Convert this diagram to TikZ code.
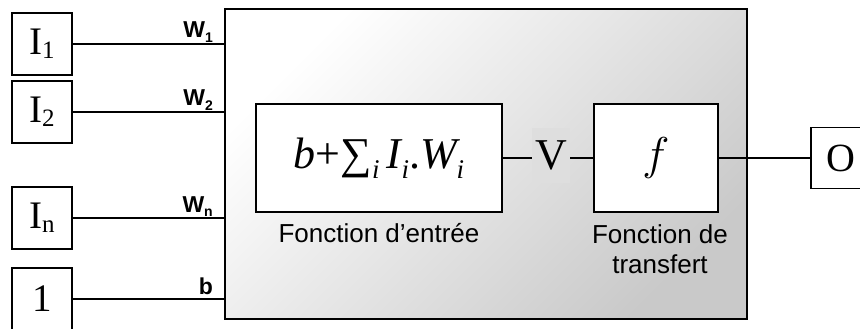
\documentclass[tikz,border=0pt]{standalone}
\usepackage{fix-cm}
\usepackage{fontspec}
\setmainfont{Liberation Serif}
\setsansfont{Liberation Sans}
\usetikzlibrary{positioning}

% indices
\newcommand{\indx}[1]{\raisebox{-0.1em}{\fontsize{25}{25}\selectfont #1}}
\newcommand{\indi}[1]{\raisebox{-0.22em}{\fontsize{27}{27}\selectfont\itshape #1}}
\newcommand{\indw}[1]{\raisebox{-0.2em}{\fontsize{14}{14}\selectfont #1}}

\begin{document}
\begin{tikzpicture}[
    x=1pt, y=-1pt,
    inbox/.style={
        rectangle, draw, line width=1.6pt, fill=white,
        minimum width=60pt, minimum height=62pt, inner sep=0pt,
        font=\fontsize{39}{39}\selectfont
    },
    fbox/.style={
        rectangle, draw, line width=1.6pt, fill=white,
        minimum height=108pt, inner sep=0pt,
        font=\fontsize{44}{44}\selectfont
    },
    wlab/.style={font=\sffamily\bfseries\fontsize{23}{23}\selectfont, anchor=base east, inner sep=0pt},
    legende/.style={font=\sffamily\fontsize{26}{30}\selectfont, align=center, inner sep=0pt},
    wire/.style={line width=1.5pt}
]
    \useasboundingbox (0,0) rectangle (860,329);
    \clip (0,0) rectangle (860,329);

    % neurone
    \node[rectangle, draw, line width=2pt, top color=white, bottom color=black!21, shading angle=45,
          minimum width=522pt, minimum height=310pt, inner sep=0pt, anchor=north west] (neurone) at (224,8) {};

    % entrees
    \node[inbox] (in1) at (42,44)  {I\indx{1}};
    \node[inbox] (in2) at (42,112) {I\indx{2}};
    \node[inbox] (inn) at (42,218) {I\indx{n}};
    \node[inbox] (biais) at (42,299) {1};
    \node[inbox, minimum height=61pt, font=\fontsize{40}{40}\selectfont] (sortie) at (841,158) {O};

    \draw[wire] (in1.east) -- (in1.east -| neurone.west);
    \draw[wire] (in2.east) -- (in2.east -| neurone.west);
    \draw[wire] (inn.east) -- (inn.east -| neurone.west);
    \draw[wire] (biais.east) -- (biais.east -| neurone.west);

    \node[wlab] (w1) at (213,38)  {W\indw{1}};
    \node[wlab] (w2) at (213,106) {W\indw{2}};
    \node[wlab] (wn) at (213,212) {W\indw{n}};
    \node[wlab] (wb) at (213,294) {b};

    % fonctions
    \node[fbox, minimum width=246pt] (entree) at (379,158)
        {\itshape b\upshape+∑\indi{i}\,\itshape I\indi{i}\upshape.\itshape W\indi{i}};
    \node[fill=black!13, minimum width=38pt, minimum height=55pt, inner sep=0pt,
          font=\fontsize{44}{44}\selectfont] (v) at (551,155) {V};
    \node[fbox, minimum width=124pt, font=\fontsize{46}{46}\selectfont] (transfert) at (656,158) {$f$};

    \draw[wire] (entree.east) -- (entree.east -| v.west);
    \draw[wire] (v.east |- transfert.west) -- (transfert.west);
    \draw[wire] (transfert.east) -- (sortie.west);

    \node[legende, below=10pt of entree] (lab1) {Fonction d’entrée};
    \node[legende, below=12pt of transfert, xshift=4pt] (lab2) {Fonction de\\transfert};
\end{tikzpicture}
\end{document}
